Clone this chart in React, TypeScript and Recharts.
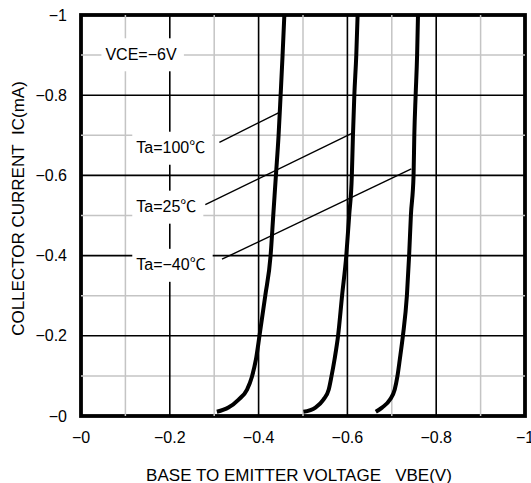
import React, { useLayoutEffect, useRef, useState } from "react";
import * as RC from "recharts";
import {
  LineChart,
  Line,
  XAxis,
  YAxis,
  ReferenceLine,
  ReferenceDot,
  Label,
} from "recharts";

// ---- data (VBE in V, IC in mA; both negative) ----
const icPoints = [-0.0105, -0.021, -0.041, -0.066, -0.098, -0.141, -0.2, -0.3, -0.4, -0.5, -0.6, -0.7, -0.8, -0.9, -1.0];
const vbeTa100 = [-0.306, -0.332, -0.355, -0.374, -0.385, -0.394, -0.402, -0.415, -0.427, -0.433, -0.439, -0.445, -0.4496, -0.454, -0.458];
const vbeTa25 = [-0.501, -0.528, -0.546, -0.558, -0.564, -0.571, -0.579, -0.588, -0.5975, -0.604, -0.61, -0.6125, -0.6156, -0.62, -0.623];
const vbeTaM40 = [-0.664, -0.678, -0.696, -0.7066, -0.7125, -0.718, -0.725, -0.734, -0.739, -0.743, -0.749, -0.7507, -0.7537, -0.757, -0.759];

const xTicks = [0, -0.2, -0.4, -0.6, -0.8, -1];
const yTicks = [0, -0.2, -0.4, -0.6, -0.8, -1];
const minorGrid = [-0.1, -0.3, -0.5, -0.7, -0.9];
const majorGrid = [-0.2, -0.4, -0.6, -0.8];

const labelTexts = ["VCE=\u22126V", "Ta=100\u2103", "Ta=25\u2103", "Ta=\u221240\u2103"];
const labelVbe = [-0.055, -0.1245, -0.1245, -0.1245];
const labelIc = [-0.902, -0.669, -0.522, -0.377];

const leaderFromVbe = [-0.3117, -0.28, -0.3176];
const leaderFromIc = [-0.6825, -0.527, -0.391];
const leaderToVbe = [-0.4447, -0.6088, -0.744];
const leaderToIc = [-0.756, -0.704, -0.616];

const toSeries = (vbe: number[]) => vbe.map((x, i) => ({ x, y: icPoints[i] }));
const series = [toSeries(vbeTa100), toSeries(vbeTa25), toSeries(vbeTaM40)];

const FONT = "'Liberation Sans', Arial, 'Noto Sans CJK JP', sans-serif";
const fmt = (v: number) => "\u2212" + String(Math.abs(v));

const usePlot: any = (RC as any).usePlotArea || (RC as any).useOffset || (() => null);

function Frame() {
  const pa: any = usePlot();
  if (!pa || pa.width == null) return null;
  return (
    <rect
      x={pa.x}
      y={pa.y}
      width={pa.width}
      height={pa.height}
      fill="none"
      stroke="#000"
      strokeWidth={3.8}
    />
  );
}

function BoxLabel({ cx, cy, text }: { cx: number; cy: number; text: string }) {
  const ref = useRef<SVGTextElement>(null);
  const [w, setW] = useState(text.length * 9);
  useLayoutEffect(() => {
    if (ref.current) setW(ref.current.getBBox().width);
  }, [text]);
  return (
    <g>
      <rect x={cx - 4} y={cy - 16} width={w + 11} height={33} fill="#ffffff" />
      <text
        ref={ref}
        x={cx}
        y={cy}
        dominantBaseline="central"
        fontSize={16}
        fontFamily={FONT}
        fill="#000"
      >
        {text}
      </text>
    </g>
  );
}

export default function App() {
  return (
    <div style={{ position: "absolute", left: 0, top: 0 }}>
      <LineChart
        width={531}
        height={483}
        margin={{ top: 15, right: 6, bottom: 7, left: 0 }}
        style={{ background: "#fff" }}
      >
        <XAxis
          type="number"
          dataKey="x"
          domain={[-1, 0]}
          reversed
          ticks={xTicks}
          interval={0}
          tickFormatter={fmt}
          tickLine={false}
          axisLine={false}
          tickMargin={10}
          height={60}
          tick={{ fontSize: 16, fill: "#000", fontFamily: FONT }}
          allowDataOverflow
        >
          <Label
            content={({ viewBox }: any) => (
              <text
                x={viewBox.x + viewBox.width / 2 - 4}
                y={viewBox.y + 59}
                textAnchor="middle"
                dominantBaseline="central"
                fontSize={17}
                fontFamily={FONT}
                fill="#000"
                style={{ whiteSpace: "pre" }}
              >
                {"BASE TO EMITTER VOLTAGE\u00a0\u00a0\u00a0VBE(V)"}
              </text>
            )}
          />
        </XAxis>
        <YAxis
          type="number"
          dataKey="y"
          domain={[-1, 0]}
          reversed
          ticks={yTicks}
          interval={0}
          tickFormatter={fmt}
          tickLine={false}
          axisLine={false}
          tickMargin={8}
          width={81}
          tick={{ fontSize: 16, fill: "#000", fontFamily: FONT }}
          allowDataOverflow
        >
          <Label
            content={({ viewBox }: any) => (
              <text
                x={18}
                y={viewBox.y + viewBox.height / 2 - 7}
                textAnchor="middle"
                dominantBaseline="central"
                fontSize={17}
                fontFamily={FONT}
                fill="#000"
                transform={`rotate(-90 18 ${viewBox.y + viewBox.height / 2 - 7})`}
              >
                {"COLLECTOR CURRENT\u00a0\u00a0IC(mA)"}
              </text>
            )}
          />
        </YAxis>

        {minorGrid.map((v) => (
          <ReferenceLine key={"mx" + v} x={v} stroke="#c4c4c4" strokeWidth={1.5} />
        ))}
        {minorGrid.map((v) => (
          <ReferenceLine key={"my" + v} y={v} stroke="#c4c4c4" strokeWidth={1.5} />
        ))}
        {majorGrid.map((v) => (
          <ReferenceLine key={"Mx" + v} x={v} stroke="#000" strokeWidth={1.6} />
        ))}
        {majorGrid.map((v) => (
          <ReferenceLine key={"My" + v} y={v} stroke="#000" strokeWidth={1.6} />
        ))}

        {labelTexts.map((t, i) => (
          <ReferenceDot
            key={"lb" + i}
            x={labelVbe[i]}
            y={labelIc[i]}
            r={1}
            shape={(p: any) => <BoxLabel cx={p.cx} cy={p.cy} text={t} />}
          />
        ))}

        {leaderFromVbe.map((v, i) => (
          <ReferenceLine
            key={"ld" + i}
            segment={[
              { x: v, y: leaderFromIc[i] },
              { x: leaderToVbe[i], y: leaderToIc[i] },
            ]}
            stroke="#000"
            strokeWidth={1.4}
          />
        ))}

        {series.map((d, i) => (
          <Line
            key={"s" + i}
            data={d}
            dataKey="y"
            type="monotone"
            stroke="#000"
            strokeWidth={4}
            dot={false}
            isAnimationActive={false}
          />
        ))}

        <Frame />
      </LineChart>
    </div>
  );
}
